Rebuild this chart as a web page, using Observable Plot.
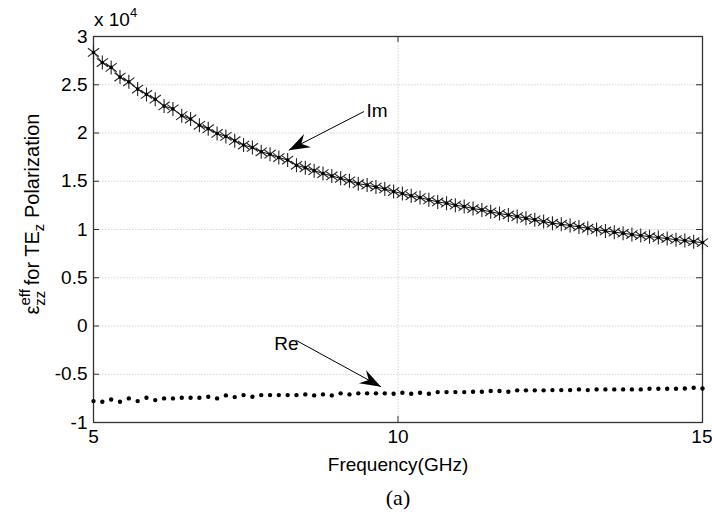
<!DOCTYPE html>
<html><head><meta charset="utf-8">
<script src="https://cdn.jsdelivr.net/npm/d3@7"></script>
<script src="https://cdn.jsdelivr.net/npm/@observablehq/plot@0.6"></script>
<style>
body{margin:0;background:#fff;}
#chart svg{display:block;}
</style>
</head><body><div id="chart"></div>
<script>
// Frequency samples (GHz)
const freqGHz = [5.000,5.145,5.290,5.435,5.580,5.725,5.870,6.014,6.159,6.304,
 6.449,6.594,6.739,6.884,7.029,7.174,7.319,7.464,7.609,7.754,
 7.899,8.043,8.188,8.333,8.478,8.623,8.768,8.913,9.058,9.203,
 9.348,9.493,9.638,9.783,9.928,10.072,10.217,10.362,10.507,10.652,
 10.797,10.942,11.087,11.232,11.377,11.522,11.667,11.812,11.957,12.101,
 12.246,12.391,12.536,12.681,12.826,12.971,13.116,13.261,13.406,13.551,
 13.696,13.841,13.986,14.130,14.275,14.420,14.565,14.710,14.855,15.000];
// Imaginary part (x 10^4)
const imEps = [2.835,2.73,2.68,2.58,2.53,2.455,2.40,2.35,2.28,2.25,
 2.18,2.145,2.08,2.045,1.995,1.965,1.92,1.875,1.85,1.805,
 1.78,1.745,1.72,1.665,1.64,1.61,1.58,1.555,1.53,1.505,
 1.475,1.46,1.44,1.42,1.393,1.372,1.349,1.331,1.307,1.286,
 1.273,1.252,1.238,1.217,1.203,1.183,1.165,1.151,1.134,1.117,
 1.100,1.082,1.065,1.055,1.041,1.027,1.013,0.999,0.985,0.972,
 0.962,0.947,0.937,0.926,0.916,0.906,0.895,0.885,0.874,0.864];
// Real part (x 10^4)
const reEps = [-0.778,-0.785,-0.761,-0.785,-0.750,-0.778,-0.743,-0.768,-0.750,-0.750,
 -0.743,-0.743,-0.743,-0.733,-0.750,-0.719,-0.737,-0.716,-0.733,-0.716,
 -0.716,-0.716,-0.716,-0.716,-0.709,-0.719,-0.709,-0.719,-0.698,-0.709,
 -0.698,-0.698,-0.698,-0.698,-0.702,-0.692,-0.702,-0.692,-0.702,-0.685,
 -0.685,-0.685,-0.685,-0.681,-0.681,-0.674,-0.674,-0.681,-0.667,-0.667,
 -0.667,-0.667,-0.664,-0.664,-0.664,-0.657,-0.664,-0.657,-0.657,-0.657,
 -0.657,-0.657,-0.657,-0.650,-0.650,-0.650,-0.650,-0.647,-0.640,-0.647];
const xTicks = [5, 10, 15];
const yTicks = [-1, -0.5, 0, 0.5, 1, 1.5, 2, 2.5, 3];
const seriesLabels = ["Im", "Re"];
// annotation anchors in data units
const labelX = [9.483, 7.97];
const labelY = [2.23, -0.187];
const arrowFromX = [9.44, 8.33];
const arrowFromY = [2.222, -0.15];
const arrowToX = [8.207, 9.72];
const arrowToY = [1.822, -0.63];

const data = freqGHz.map((f, i) => ({f, im: imEps[i], re: reEps[i]}));
const notes = seriesLabels.map((label, i) => ({label, tx: labelX[i], ty: labelY[i],
  x1: arrowFromX[i], y1: arrowFromY[i], x2: arrowToX[i], y2: arrowToY[i]}));

const NS = "http://www.w3.org/2000/svg";
function filledArrow(color, context) {
  const doc = (context && context.document) || document;
  const m = doc.createElementNS(NS, "marker");
  m.setAttribute("viewBox", "-22 -9 24 18");
  m.setAttribute("markerWidth", "24");
  m.setAttribute("markerHeight", "18");
  m.setAttribute("markerUnits", "userSpaceOnUse");
  m.setAttribute("orient", "auto");
  m.setAttribute("refX", "0");
  m.setAttribute("refY", "0");
  const p = doc.createElementNS(NS, "path");
  p.setAttribute("d", "M0,0L-21,-7.5L-14,0L-21,7.5Z");
  p.setAttribute("fill", "black");
  p.setAttribute("stroke", "none");
  m.appendChild(p);
  return m;
}
const star = {
  draw(ctx, size) {
    const r = Math.sqrt(size / Math.PI);
    const d = r * 0.8;
    ctx.moveTo(0, -r); ctx.lineTo(0, r);
    ctx.moveTo(-d, -d * 0.75); ctx.lineTo(d, d * 0.75);
    ctx.moveTo(-d, d * 0.75); ctx.lineTo(d, -d * 0.75);
  }
};

const W = 712, H = 514;
const frameW = 609, frameH = 386;
const gridStyle = {stroke: "#d4d4d4", strokeOpacity: 1, strokeDasharray: "1.5,1.5"};
const tickText = {tickSize: 0, tickPadding: 7, tickFormat: d => String(d), label: null, fontSize: 19};
const chart = Plot.plot({
  width: W, height: H,
  marginLeft: 93, marginRight: 10, marginTop: 36, marginBottom: 92,
  style: {fontFamily: "'Liberation Sans', Arial, Helvetica, sans-serif", fontSize: "19px", color: "black", background: "white"},
  x: {domain: [5, 15]},
  y: {domain: [-1, 3]},
  marks: [
    Plot.gridY(yTicks.slice(1, -1), gridStyle),
    Plot.gridX([10], gridStyle),
    Plot.tickY(yTicks, {y: d => d, stroke: "#333", insetRight: frameW - 6}),
    Plot.tickY(yTicks, {y: d => d, stroke: "#333", insetLeft: frameW - 6}),
    Plot.tickX(xTicks, {x: d => d, stroke: "#333", insetTop: frameH - 6}),
    Plot.tickX(xTicks, {x: d => d, stroke: "#333", insetBottom: frameH - 6}),
    Plot.frame({stroke: "#333", strokeWidth: 1.3}),
    Plot.line(data, {x: "f", y: "im", stroke: "#111", strokeWidth: 1}),
    Plot.dot(data, {x: "f", y: "im", symbol: star, r: 7, stroke: "#222", strokeWidth: 1.1, fill: "none"}),
    Plot.dot(data, {x: "f", y: "im", r: 1.8, fill: "black", stroke: "none"}),
    Plot.dot(data, {x: "f", y: "re", r: 2.2, fill: "black", stroke: "none"}),
    Plot.link(notes, {x1: "x1", y1: "y1", x2: "x2", y2: "y2", stroke: "black", strokeWidth: 1, markerEnd: filledArrow}),
    Plot.text(notes, {x: "tx", y: "ty", text: "label", textAnchor: "start", fontSize: 19, fill: "black"}),
    Plot.axisX(xTicks.slice(0, 2), tickText),
    Plot.axisX(xTicks.slice(2), {...tickText, textAnchor: "end", dx: 10}),
    Plot.axisY(yTicks, {...tickText, tickPadding: 6}),
    Plot.text(["Frequency(GHz)"], {frameAnchor: "bottom", dy: 48, lineAnchor: "bottom", fontSize: 19, fill: "black"}),
    Plot.text(["(a)"], {frameAnchor: "bottom", dy: 82, lineAnchor: "bottom", fontSize: 22, fill: "black", fontFamily: "'Liberation Serif', 'Times New Roman', serif"})
  ]
});
document.getElementById("chart").appendChild(chart);

const svg = d3.select(chart);
// multiplier label
const mult = svg.append("text").attr("x", 94).attr("y", 26).attr("text-anchor", "start")
  .attr("font-size", 19).attr("fill", "black");
mult.append("tspan").text("x 10");
mult.append("tspan").attr("dy", -9).attr("font-size", 13).text("4");
// y-axis label with super/subscripts
const yl = svg.append("text")
  .attr("transform", "translate(39,214) rotate(-90)")
  .attr("text-anchor", "middle").attr("font-size", 20).attr("fill", "black");
yl.append("tspan").text("ε");
yl.append("tspan").attr("dy", -9).attr("font-size", 15).text("eff");
yl.append("tspan").attr("dx", -16.7).attr("dy", 15).attr("font-size", 15).text("zz");
yl.append("tspan").attr("dy", -6).text(" for TE");
yl.append("tspan").attr("dy", 5).attr("font-size", 15).text("z");
yl.append("tspan").attr("dy", -5).text(" Polarization");
</script>
</body></html>
